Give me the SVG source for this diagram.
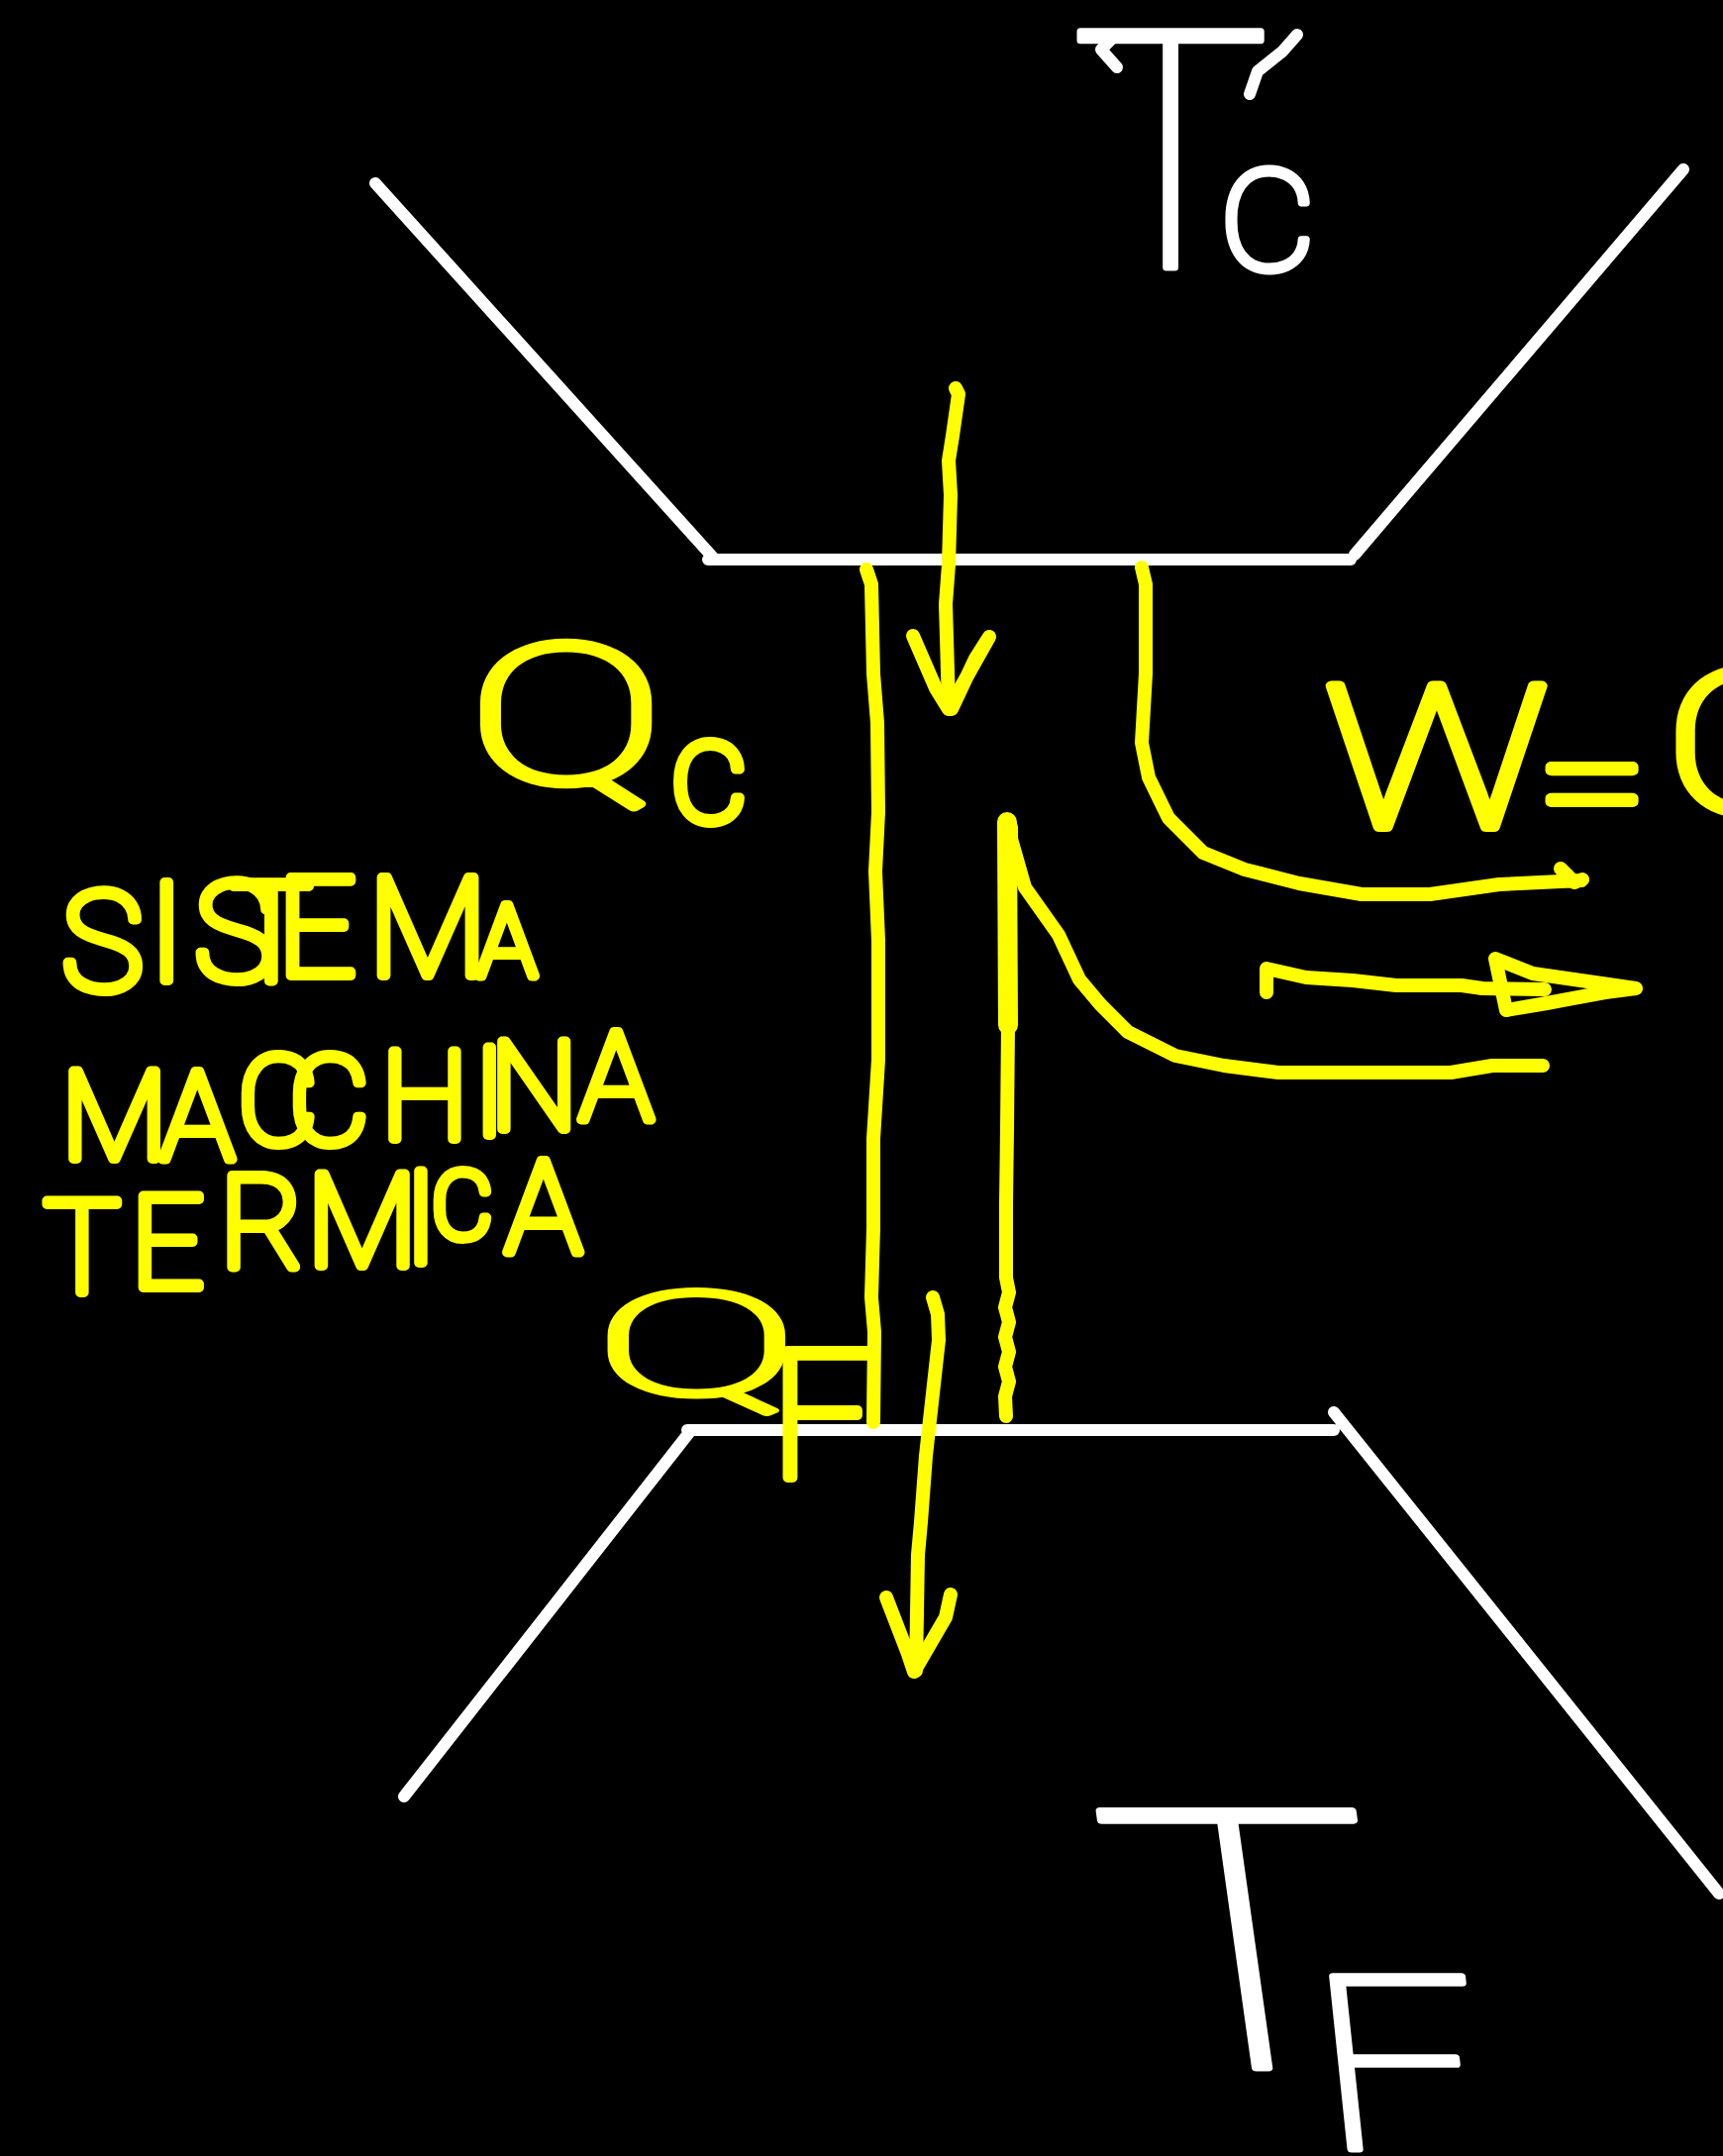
<svg xmlns="http://www.w3.org/2000/svg" width="1740" height="2177" viewBox="0 0 1740 2177">
<style>
.w{fill:none;stroke:#fff;stroke-width:12;stroke-linecap:round;stroke-linejoin:round}
.y{fill:none;stroke:#ff0;stroke-width:14;stroke-linecap:round;stroke-linejoin:round}
.tw,.ty{font-family:"Roboto","Liberation Sans",sans-serif;font-weight:100;stroke-linejoin:round;stroke-linecap:round}
.tw{fill:#fff;stroke:#fff;stroke-width:7}
.ty{fill:#ff0;stroke:#ff0;stroke-width:10}
</style>
<rect width="1740" height="2177" fill="#000"/>
<g id="hot-reservoir">
<path class="w" d="M379 185L722 565M715 565H1364M1368 560L1700 171"/>
<text class="tw" font-size="335" x="1082" y="270">T</text>
<path class="w" d="M1310 35L1295 52L1270 72L1262 95M1128 68L1112 50L1124 38"/>
<text class="tw" font-size="190" x="1232" y="272">c</text>
</g>
<g id="cold-reservoir">
<path class="w" d="M408 1814L698 1444M694 1444H1347M1347 1426L1736 1912"/>
<text class="tw" font-size="365" transform="translate(1135,2088) skewX(8) scale(1.28,1)">T</text>
<text class="tw" font-size="245" transform="translate(1336,2170) skewX(6) scale(1.2,1)">F</text>
</g>
<g id="connectors">
<path class="y" d="M965 392L968 398L962 440L958 465L960 500L958 570L955 610L958 712"/>
<path class="y" d="M922 642L945 695L958 716L999 643M961 716L985 665L999 643"/>
<path class="y" d="M875 575L880 590L882 680L886 730L887 820L884 880L887 950L887 1070L882 1150L882 1240L880 1310L883 1345L882 1436"/>
<path class="y" d="M1017 830L1018 1035" style="stroke-width:20"/>
<path class="y" d="M1018 1035L1017 1140L1016 1215L1016 1290L1019 1305L1015 1320L1019 1335L1015 1350L1019 1365L1015 1380L1019 1395L1015 1410L1016 1430"/>
<path class="y" d="M1021 835L1021 847L1035 896L1069 944L1090 989L1111 1014L1139 1042L1187 1066L1236 1076L1291 1083L1465 1083L1507 1076L1558 1076"/>
<path class="y" d="M1153 573L1157 590L1157 680L1153 750L1160 785L1180 826L1215 861L1257 878L1312 892L1375 903L1444 903L1514 893L1597 889M1576 877L1590 891L1598 888"/>
<path class="y" d="M1279 1002L1279 978L1319 987L1366 990L1410 995L1476 995L1497 998L1560 999"/>
<path class="y" d="M1521 1020L1510 968L1548 983L1652 998L1621 1002L1562 1013Z"/>
<path class="y" d="M942 1310L947 1327L948 1353L935 1470L930 1537L927 1570L925 1687"/>
<path class="y" d="M895 1613L917 1670L923 1688L955 1633L960 1610"/>
</g>
<g id="label-system">
<text class="ty" font-size="140" x="62 150 196 232 280 372 482" y="1000 990 990 990 985 985 985">SISTEM<tspan font-size="100">A</tspan></text>
<text class="ty" font-size="125" x="62 162 240 292 385 478 495 585" y="1170 1170 1155 1155 1150 1146 1140 1130">MACCHINA</text>
<text class="ty" font-size="130" x="44 132 222 310 408 436 510" y="1305 1300 1280 1278 1275 1250 1265">TERMI<tspan font-size="95">C</tspan>A</text>
</g>
<g id="label-qc">
<text class="ty" font-size="230" transform="translate(472,790) scale(1.3,.85)">Q</text>
<text class="ty" font-size="150" x="678" y="830">c</text>
</g>
<g id="label-work">
<text class="ty" font-size="200" transform="scale(1.25,1)" x="1070 1242 1346" y="835 844 820">W<tspan font-size="160">=</tspan>Q</text>
</g>
<g id="label-qf">
<text class="ty" font-size="235" transform="translate(600,1408) scale(1.32,.62)">Q</text>
<text class="ty" font-size="180" x="778" y="1492">F</text>
</g>
</svg>
